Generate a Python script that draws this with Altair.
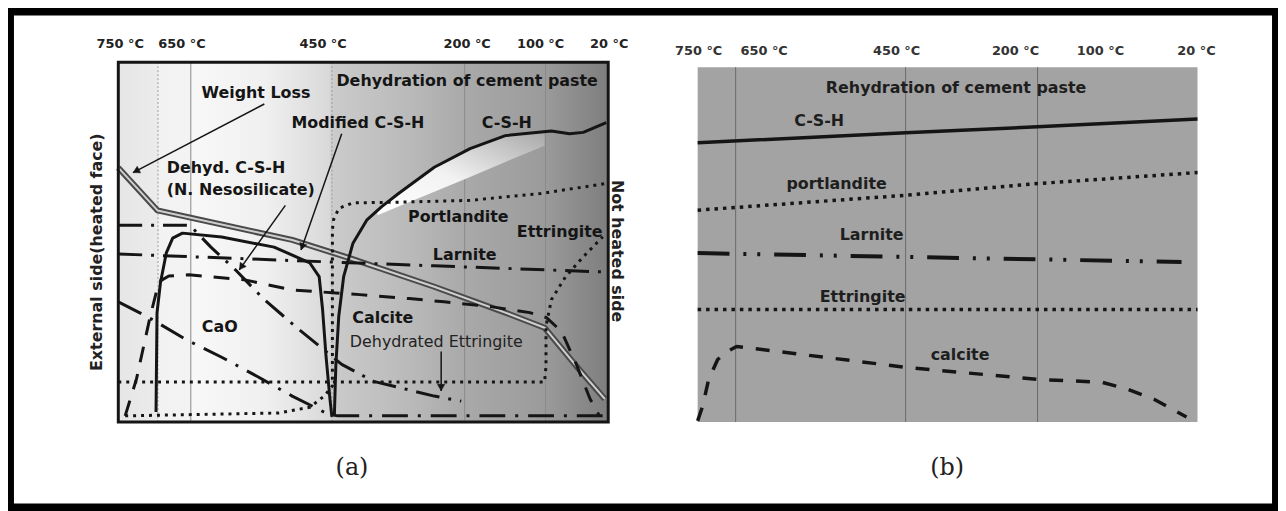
import math
import altair as alt
import pandas as pd

# ---------------- shared ----------------
temp_labels = ["750 °C", "650 °C", "450 °C", "200 °C", "100 °C", "20 °C"]
panel_extent = [0, 100]

# ---------------- panel (a): dehydration (depth 0..100, amount 0..100) ----------------
a_temp_x = [0.4, 13.0, 41.8, 71.2, 86.2, 100.2]
a_temp_y = [105.2] * 6
a_grid_dotted = [8.1, 43.6]
a_grid_solid = [14.8, 70.7, 87.2]

a_weight_x = [0, 8.0, 35.5, 47.1, 64.5, 79.0, 87.0, 93.5, 99.3]
a_weight_y = [70.7, 58.8, 50.6, 45.6, 37.6, 30.4, 26.2, 15.5, 6.4]

a_csh_x = [44.1, 44.4, 45.0, 46.0, 47.9, 50.7, 53.7, 57.2, 64.5, 71.8, 79.0, 88.4, 92.1, 94.9, 99.6]
a_csh_y = [1.7, 15.6, 29.4, 40.4, 49.7, 56.1, 59.8, 63.5, 70.8, 76.0, 79.6, 80.9, 80.1, 80.5, 83.2]

a_dcsh_x = [7.7, 7.9, 8.6, 9.8, 11.1, 13.1, 21.1, 31.8, 37.0, 39.1, 41.0, 41.7, 42.4, 43.2, 43.6]
a_dcsh_y = [2.8, 30.3, 38.7, 47.0, 51.1, 52.5, 51.4, 48.6, 45.5, 44.2, 40.4, 31.2, 18.3, 6.4, 1.4]

a_port_x = [1.4, 32.7, 39.1, 42.1, 43.7, 43.7, 43.9, 45.0, 47.9, 57.2, 71.8, 86.2, 99.6]
a_port_y = [1.7, 2.5, 4.1, 7.3, 10.0, 53.3, 56.1, 59.4, 60.9, 61.1, 61.6, 63.5, 66.3]

a_ettr_x = [0, 87.0, 87.3, 87.3, 88.4, 91.3, 94.9, 98.9]
a_ettr_y = [11.1, 11.1, 15.5, 26.6, 34.0, 40.4, 45.9, 51.5]

a_larn_x = [0, 42.8, 64.5, 99.2]
a_larn_y = [46.7, 44.5, 43.4, 41.7]

a_upper_x = [0, 14.6, 18.9, 23.9, 29.8, 36.9, 45.6, 52.1, 64.5, 70.0]
a_upper_y = [54.7, 54.7, 48.6, 42.3, 34.0, 25.7, 16.0, 11.3, 7.2, 5.8]

a_cao_x = [0, 5.9, 13.8, 21.1, 28.3, 35.5, 42.8, 44.8, 100]
a_cao_y = [33.4, 29.3, 22.9, 18.0, 12.7, 7.2, 2.2, 1.7, 1.7]

a_calc_x = [1.4, 3.7, 6.5, 8.3, 10.3, 14.4, 25.8, 35.5, 49.3, 59.4, 66.5, 76.3, 84.0, 87.4, 90.5, 93.5, 96.3, 98.2]
a_calc_y = [1.7, 11.9, 29.3, 39.0, 40.6, 40.9, 39.5, 36.7, 35.4, 34.3, 33.4, 32.0, 30.4, 29.0, 25.1, 16.0, 6.4, 1.7]

a_wedge_x = [52.9, 57.2, 64.5, 71.8, 79.0, 87.0]
a_wedge_lo = [57.5, 59.9, 64.0, 68.1, 72.3, 76.8]
a_wedge_hi = [59.4, 63.5, 70.8, 76.0, 79.6, 80.7]

a_bold_text = ["Dehydration of cement paste", "Weight Loss", "Modified C-S-H", "C-S-H",
               "Portlandite", "Ettringite", "Larnite", "Calcite", "CaO"]
a_bold_x = [71.2, 28.1, 48.9, 79.3, 69.4, 90.1, 70.7, 54.0, 20.7]
a_bold_y = [94.8, 91.4, 83.1, 83.1, 56.9, 52.8, 46.4, 29.0, 26.5]
a_left_text = ["Dehyd. C-S-H", "(N. Nesosilicate)"]
a_left_x = [9.9, 9.9]
a_left_y = [70.7, 64.4]
a_plain_text = ["Dehydrated Ettringite"]
a_plain_x = [64.9]
a_plain_y = [22.1]
a_side_text = ["External side(heated face)", "Not heated side"]
a_side_x = [-4.3, 101.8]
a_side_y = [47.2, 47.5]
a_side_angle = [270, 90]
a_caption = ["(a)"]
a_caption_x = [47.7]
a_caption_y = [-12.7]

a_arrow_x0 = [29.8, 45.6, 34.1, 65.9]
a_arrow_y0 = [88.4, 80.1, 60.2, 19.6]
a_arrow_x1 = [3.0, 37.3, 24.7, 65.9]
a_arrow_y1 = [69.3, 47.8, 42.3, 8.6]

# ---------------- panel (b): rehydration ----------------
b_temp_x = [0.2, 13.3, 39.8, 63.6, 80.6, 99.8]
b_temp_y = [104.5] * 6
b_grid = [7.6, 41.6, 68.0]
b_csh_x = [0, 41.6, 68.0, 100]
b_csh_y = [78.7, 81.5, 83.2, 85.4]
b_port_x = [0, 41.6, 68.0, 100]
b_port_y = [59.7, 63.9, 67.2, 70.3]
b_larn_x = [0, 96.8]
b_larn_y = [47.6, 45.1]
b_ettr_x = [0, 100]
b_ettr_y = [31.7, 31.7]
b_calc_x = [0, 1.0, 2.2, 4.0, 5.6, 7.8, 41.7, 68.0, 80.9, 86.1, 91.3, 97.8]
b_calc_y = [0.3, 4.5, 12.0, 17.6, 19.6, 21.3, 15.4, 12.0, 11.2, 9.2, 6.4, 1.4]
b_text = ["Rehydration of cement paste", "C-S-H", "portlandite", "Larnite", "Ettringite", "calcite"]
b_text_x = [51.7, 24.3, 27.8, 34.8, 33.0, 52.5]
b_text_y = [94.1, 84.9, 67.2, 52.7, 35.3, 19.0]
b_caption = ["(b)"]
b_caption_x = [49.9]
b_caption_y = [-12.9]

# ---------------- layout (pixel ranges of each panel inside the figure) ----------------
PX = {"a": [111, 604], "b": [694, 1197]}
PY = {"a": [415, 53], "b": [415, 58]}
SANS = "DejaVu Sans"
SERIF = "DejaVu Serif"
INK = "#151515"


def sx(p):
    return alt.Scale(domain=panel_extent, range=PX[p], nice=False, zero=False)


def sy(p):
    return alt.Scale(domain=panel_extent, range=PY[p], nice=False, zero=False)


def X(p, f="x"):
    return alt.X(f"{f}:Q", scale=sx(p), axis=None)


def Y(p, f="y"):
    return alt.Y(f"{f}:Q", scale=sy(p), axis=None)


def line(p, xs, ys, **mark):
    df = pd.DataFrame({"x": xs, "y": ys, "i": list(range(len(xs)))})
    return alt.Chart(df).mark_line(strokeCap="butt", strokeJoin="round", **mark).encode(
        x=X(p), y=Y(p), order="i:Q")


def texts(p, labels, xs, ys, font=SANS, **mark):
    df = pd.DataFrame({"t": labels, "x": xs, "y": ys})
    return alt.Chart(df).mark_text(font=font, baseline="middle", **mark).encode(
        x=X(p), y=Y(p), text="t:N")


def frame_df():
    return pd.DataFrame({"x": [panel_extent[0]], "x2": [panel_extent[1]],
                         "y": [panel_extent[0]], "y2": [panel_extent[1]]})


def rules(p, xs, **mark):
    df = pd.DataFrame({"x": xs, "y": [panel_extent[0]] * len(xs), "y2": [panel_extent[1]] * len(xs)})
    return alt.Chart(df).mark_rule(**mark).encode(x=X(p), y=Y(p), y2=alt.Y2("y2:Q"))


layers = []

# panel (a) background with horizontal shading
grad_a = {"gradient": "linear", "x1": 0, "x2": 1, "y1": 0, "y2": 0,
          "stops": [{"offset": 0, "color": "#e6e6e6"}, {"offset": 0.08, "color": "#ebebeb"},
                    {"offset": 0.082, "color": "#f2f2f2"}, {"offset": 0.148, "color": "#f3f3f3"},
                    {"offset": 0.15, "color": "#f8f8f8"}, {"offset": 0.3, "color": "#f0f0f0"},
                    {"offset": 0.43, "color": "#d9d9d9"}, {"offset": 0.437, "color": "#cbcbcb"},
                    {"offset": 0.6, "color": "#b9b9b9"}, {"offset": 0.707, "color": "#a9a9a9"},
                    {"offset": 0.87, "color": "#9b9b9b"}, {"offset": 1, "color": "#7e7e7e"}]}
layers.append(alt.Chart(frame_df()).mark_rect(fill=grad_a).encode(
    x=X("a"), x2=alt.X2("x2:Q"), y=Y("a"), y2=alt.Y2("y2:Q")))

# panel (b) background
layers.append(alt.Chart(frame_df()).mark_rect(fill="#a3a3a3").encode(
    x=X("b"), x2=alt.X2("x2:Q"), y=Y("b"), y2=alt.Y2("y2:Q")))

# grid lines
layers.append(rules("a", a_grid_dotted, color="#9a9a9a", strokeWidth=1, strokeDash=[2, 2]))
layers.append(rules("a", a_grid_solid, color="#8a8a8a", strokeWidth=1))
layers.append(rules("b", b_grid, color="#6a6a6a", strokeWidth=1))

# light wedge between C-S-H and portlandite
wedge = pd.DataFrame({"x": a_wedge_x, "lo": a_wedge_lo, "hi": a_wedge_hi})
grad_w = {"gradient": "linear", "x1": 0, "x2": 1, "y1": 1, "y2": 0,
          "stops": [{"offset": 0, "color": "#ffffff"}, {"offset": 0.45, "color": "#f2f2f2"},
                    {"offset": 1, "color": "#a8a8a8"}]}
layers.append(alt.Chart(wedge).mark_area(fill=grad_w).encode(
    x=X("a"), y=Y("a", "lo"), y2=alt.Y2("hi:Q")))

# weight loss double band
layers.append(line("a", a_weight_x, a_weight_y, color="#4a4a4a", strokeWidth=6))
layers.append(line("a", a_weight_x, a_weight_y, color="#cfcfcf", strokeWidth=2))

# panel (a) curves
layers.append(line("a", a_csh_x, a_csh_y, color=INK, strokeWidth=3))
layers.append(line("a", a_dcsh_x, a_dcsh_y, color=INK, strokeWidth=3))
layers.append(line("a", a_port_x, a_port_y, color=INK, strokeWidth=3, strokeDash=[3, 5]))
layers.append(line("a", a_ettr_x, a_ettr_y, color=INK, strokeWidth=3, strokeDash=[3, 5]))
layers.append(line("a", a_larn_x, a_larn_y, color=INK, strokeWidth=3, strokeDash=[24, 9, 3, 9]))
layers.append(line("a", a_upper_x, a_upper_y, color=INK, strokeWidth=3, strokeDash=[24, 9, 3, 9]))
layers.append(line("a", a_cao_x, a_cao_y, color=INK, strokeWidth=3, strokeDash=[26, 10, 3, 10]))
layers.append(line("a", a_calc_x, a_calc_y, color=INK, strokeWidth=3, strokeDash=[16, 12]))

# panel (b) curves
layers.append(line("b", b_csh_x, b_csh_y, color=INK, strokeWidth=3.5))
layers.append(line("b", b_port_x, b_port_y, color=INK, strokeWidth=3.5, strokeDash=[3.5, 5]))
layers.append(line("b", b_larn_x, b_larn_y, color=INK, strokeWidth=4, strokeDash=[32, 14, 3, 11, 3, 14]))
layers.append(line("b", b_ettr_x, b_ettr_y, color=INK, strokeWidth=3.5, strokeDash=[3.5, 5]))
layers.append(line("b", b_calc_x, b_calc_y, color=INK, strokeWidth=3.5, strokeDash=[14, 13]))

# arrows in panel (a)
kx = (PX["a"][1] - PX["a"][0]) / (panel_extent[1] - panel_extent[0])
ky = (PY["a"][1] - PY["a"][0]) / (panel_extent[1] - panel_extent[0])
heads = []
for x0, y0, x1, y1 in zip(a_arrow_x0, a_arrow_y0, a_arrow_x1, a_arrow_y1):
    dxs, dys = (x1 - x0) * kx, (y1 - y0) * ky
    ln = math.hypot(dxs, dys)
    ux, uy = dxs / ln, dys / ln
    ang = math.degrees(math.atan2(ux, -uy)) % 360
    heads.append({"x": x1 - ux * 3.5 / kx, "y": y1 - uy * 3.5 / ky, "ang": ang})
arrows = pd.DataFrame({"x": a_arrow_x0, "y": a_arrow_y0, "x2": a_arrow_x1, "y2": a_arrow_y1})
layers.append(alt.Chart(arrows).mark_rule(color=INK, strokeWidth=1.5).encode(
    x=X("a"), y=Y("a"), x2=alt.X2("x2:Q"), y2=alt.Y2("y2:Q")))
layers.append(alt.Chart(pd.DataFrame(heads)).mark_point(
    shape="triangle-up", filled=True, size=55, fill=INK, stroke=INK, strokeWidth=0.5,
    fillOpacity=1, opacity=1).encode(
    x=X("a"), y=Y("a"), angle=alt.Angle("ang:Q", scale=None)))

# panel (a) frame
layers.append(alt.Chart(frame_df()).mark_rect(fill="transparent", stroke=INK, strokeWidth=3).encode(
    x=X("a"), x2=alt.X2("x2:Q"), y=Y("a"), y2=alt.Y2("y2:Q")))

# texts
layers.append(texts("a", temp_labels, a_temp_x, a_temp_y, fontSize=13, fontWeight="bold", color="#222"))
layers.append(texts("b", temp_labels, b_temp_x, b_temp_y, fontSize=13, fontWeight="bold", color="#333"))
layers.append(texts("a", a_bold_text, a_bold_x, a_bold_y, fontSize=16, fontWeight="bold", color=INK))
layers.append(texts("a", a_left_text, a_left_x, a_left_y, fontSize=16, fontWeight="bold", color=INK, align="left"))
layers.append(texts("a", a_plain_text, a_plain_x, a_plain_y, fontSize=16, color="#222"))
side = pd.DataFrame({"t": a_side_text, "x": a_side_x, "y": a_side_y, "a": a_side_angle})
layers.append(alt.Chart(side).mark_text(font=SANS, fontSize=16, fontWeight="bold", color="#222",
                                        baseline="middle").encode(
    x=X("a"), y=Y("a"), text="t:N", angle=alt.Angle("a:Q", scale=None)))
layers.append(texts("b", b_text, b_text_x, b_text_y, fontSize=16, fontWeight="bold", color="#1e1e1e"))
layers.append(texts("a", a_caption, a_caption_x, a_caption_y, font=SERIF, fontSize=24, color="#222"))
layers.append(texts("b", b_caption, b_caption_x, b_caption_y, font=SERIF, fontSize=24, color="#222"))

chart = (alt.layer(*layers)
         .resolve_scale(x="independent", y="independent")
         .properties(width=1278, height=503, padding=0,
                     autosize=alt.AutoSizeParams(type="none"), background="white")
         .configure_view(stroke="black", strokeWidth=12))

chart.save("out.html", embed_options={"renderer": "svg", "actions": False})
